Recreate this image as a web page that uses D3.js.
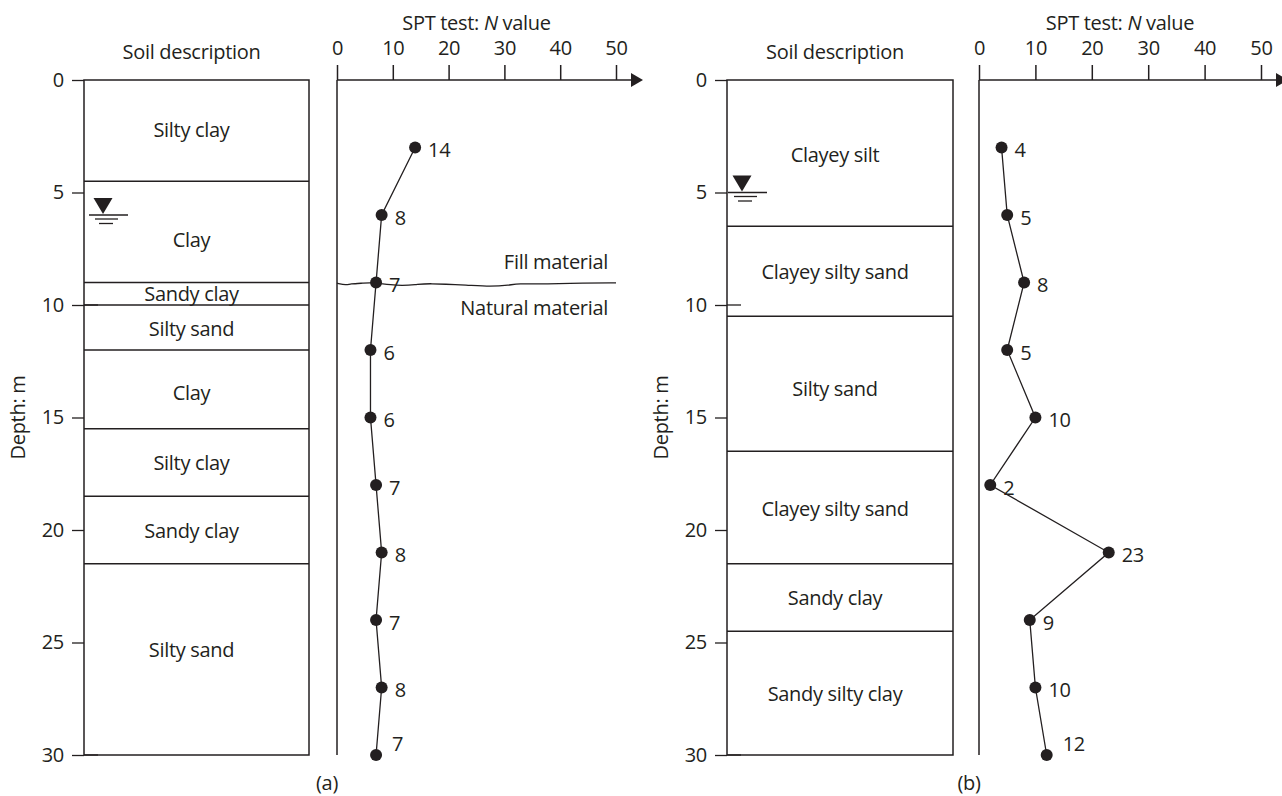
<!DOCTYPE html>
<html>
<head>
<meta charset="utf-8">
<script src="https://cdn.jsdelivr.net/npm/d3@7"></script>
<style>
  body { margin: 0; background: #fff; }
  svg { display: block; font-family: "Open Sans", sans-serif; letter-spacing: -0.3px; }
</style>
</head>
<body>
<svg width="1282" height="796"></svg>
<script>
const depthTicks = [0, 5, 10, 15, 20, 25, 30];
const nTicks = [0, 10, 20, 30, 40, 50];
const innerTicks = [10, 30];

// panel (a)
const layersA = ["Silty clay", "Clay", "Sandy clay", "Silty sand", "Clay", "Silty clay", "Sandy clay", "Silty sand"];
const boundsA = [0, 4.5, 9, 10, 12, 15.5, 18.5, 21.5, 30];
const labelDepthA = [2.2, 7.1, 9.5, 11.05, 13.9, 17, 20, 25.3];
const sptDepthA = [3, 6, 9, 12, 15, 18, 21, 24, 27, 30];
const sptNA = [14, 8, 7, 6, 6, 7, 8, 7, 8, 7];
const waterA = 6;
const fillN = [0, 1.7, 2.3, 4.7, 6.5, 10.7, 14.3, 16, 23.8, 27.4, 31, 32.2, 37.6, 44.1, 50];
const fillDepth = [9.03, 9.12, 9.06, 9.03, 9.0, 9.15, 9.1, 9.03, 9.12, 9.18, 9.12, 9.05, 9.07, 9.02, 9.02];

// panel (b)
const layersB = ["Clayey silt", "Clayey silty sand", "Silty sand", "Clayey silty sand", "Sandy clay", "Sandy silty clay"];
const boundsB = [0, 6.5, 10.5, 16.5, 21.5, 24.5, 30];
const labelDepthB = [3.3, 8.5, 13.7, 19.05, 23, 27.25];
const sptDepthB = [3, 6, 9, 12, 15, 18, 21, 24, 27, 30];
const sptNB = [4, 5, 8, 5, 10, 2, 23, 9, 10, 12];
const waterB = 5;

const ink = "#231f20";
const fs = 20;
const svg = d3.select("svg");
const y = d3.scaleLinear().domain([0, 30]).range([80, 755]);

function drawPanel(p) {
  const g = svg.append("g");
  const x = d3.scaleLinear().domain([0, 50]).range([p.x0, p.x50]);
  const mid = (p.boxL + p.boxR) / 2 - 5;

  // depth axis
  g.append("g")
    .attr("transform", `translate(${p.boxL},0)`)
    .call(d3.axisLeft(y).tickValues(depthTicks).tickSize(12).tickPadding(8))
    .call(a => a.select(".domain").remove())
    .call(a => a.selectAll("line").attr("stroke", ink).attr("stroke-width", 1.3))
    .call(a => a.selectAll("text").attr("fill", ink).attr("font-size", fs)
      .attr("font-family", "Open Sans, sans-serif"));

  g.selectAll(".inner").data(innerTicks).enter().append("line")
    .attr("x1", p.boxL).attr("x2", p.boxL + 14)
    .attr("y1", d => y(d)).attr("y2", d => y(d))
    .attr("stroke", ink).attr("stroke-width", 1.3);

  g.append("text")
    .attr("transform", `translate(${p.boxL - 67},${y(15)}) rotate(-90)`)
    .attr("text-anchor", "middle").attr("dominant-baseline", "central")
    .attr("font-size", fs).attr("fill", ink)
    .text("Depth: m");

  // soil column
  g.append("text")
    .attr("x", mid).attr("y", 59)
    .attr("text-anchor", "middle").attr("font-size", fs).attr("fill", ink)
    .text("Soil description");

  g.selectAll(".bound").data(p.bounds.slice(1, -1)).enter().append("line")
    .attr("x1", p.boxL).attr("x2", p.boxR)
    .attr("y1", d => y(d)).attr("y2", d => y(d))
    .attr("stroke", ink).attr("stroke-width", 1.3);

  g.append("rect")
    .attr("x", p.boxL).attr("y", y(0))
    .attr("width", p.boxR - p.boxL).attr("height", y(30) - y(0))
    .attr("fill", "none").attr("stroke", ink).attr("stroke-width", 1.5);

  g.selectAll(".layer").data(p.layers).enter().append("text")
    .attr("x", mid).attr("y", (d, i) => y(p.labelDepth[i]))
    .attr("text-anchor", "middle").attr("dominant-baseline", "central")
    .attr("font-size", fs).attr("fill", ink)
    .text(d => d);

  // water table
  const wy = y(p.water);
  const wx = p.boxL + p.wt;
  g.append("line").attr("x1", wx - 14).attr("x2", wx + 25).attr("y1", wy).attr("y2", wy)
    .attr("stroke", ink).attr("stroke-width", 1.3);
  g.append("line").attr("x1", wx - 8).attr("x2", wx + 15).attr("y1", wy + 4).attr("y2", wy + 4)
    .attr("stroke", ink).attr("stroke-width", 1.3);
  g.append("line").attr("x1", wx - 4).attr("x2", wx + 10).attr("y1", wy + 8.5).attr("y2", wy + 8.5)
    .attr("stroke", ink).attr("stroke-width", 1.3);
  g.append("path")
    .attr("d", `M${wx - 9.5},${wy - 17}L${wx + 9.5},${wy - 17}L${wx},${wy - 1}Z`)
    .attr("fill", ink);

  // SPT axis
  g.append("text")
    .attr("x", (p.x0 + p.x50) / 2).attr("y", 30)
    .attr("text-anchor", "middle").attr("font-size", fs).attr("fill", ink)
    .call(t => {
      t.append("tspan").text("SPT test: ");
      t.append("tspan").attr("font-style", "italic").text("N");
      t.append("tspan").text(" value");
    });

  g.append("g")
    .attr("transform", `translate(0,${y(0)})`)
    .call(d3.axisTop(x).tickValues(nTicks).tickSize(15).tickPadding(10).tickSizeOuter(0))
    .call(a => a.select(".domain").remove())
    .call(a => a.selectAll("line").attr("stroke", ink).attr("stroke-width", 1.5))
    .call(a => a.selectAll("text").attr("fill", ink).attr("font-size", fs)
      .attr("font-family", "Open Sans, sans-serif"));

  const tip = x(50) + 27;
  g.append("line").attr("x1", x(0)).attr("x2", tip - 6).attr("y1", y(0)).attr("y2", y(0))
    .attr("stroke", ink).attr("stroke-width", 1.5);
  g.append("path")
    .attr("d", `M${tip},${y(0)}L${tip - 12},${y(0) - 7}L${tip - 12},${y(0) + 7}Z`)
    .attr("fill", ink);
  g.append("line").attr("x1", x(0)).attr("x2", x(0)).attr("y1", y(0)).attr("y2", y(30))
    .attr("stroke", ink).attr("stroke-width", 1.5);

  // fill / natural boundary
  if (p.fill) {
    const pts = p.fill.n.map((n, i) => [n, p.fill.depth[i]]);
    g.append("path")
      .attr("d", d3.line().x(d => x(d[0])).y(d => y(d[1])).curve(d3.curveBasis)(pts))
      .attr("fill", "none").attr("stroke", ink).attr("stroke-width", 1.3);
    g.append("text").attr("x", x(50) - 8).attr("y", y(9) - 21)
      .attr("text-anchor", "end").attr("dominant-baseline", "central")
      .attr("font-size", fs).attr("fill", ink).text("Fill material");
    g.append("text").attr("x", x(50) - 8).attr("y", y(9) + 25)
      .attr("text-anchor", "end").attr("dominant-baseline", "central")
      .attr("font-size", fs).attr("fill", ink).text("Natural material");
  }

  // SPT profile
  const data = p.depth.map((d, i) => ({ depth: d, n: p.n[i] }));
  g.append("path")
    .datum(data)
    .attr("d", d3.line().x(d => x(d.n)).y(d => y(d.depth)))
    .attr("fill", "none").attr("stroke", ink).attr("stroke-width", 1.3);

  g.selectAll(".dot").data(data).enter().append("circle")
    .attr("cx", d => x(d.n)).attr("cy", d => y(d.depth)).attr("r", 6)
    .attr("fill", ink);

  g.selectAll(".nlab").data(data).enter().append("text")
    .attr("x", d => x(d.n) + (d.depth === 30 ? 16 : 13))
    .attr("y", d => y(d.depth) + (d.depth === 30 ? -12 : 2))
    .attr("dominant-baseline", "central")
    .attr("font-size", fs).attr("fill", ink)
    .text(d => d.n);

  g.append("text")
    .attr("x", x(0) - 10).attr("y", 790)
    .attr("text-anchor", "middle").attr("font-size", fs).attr("fill", ink)
    .text(p.caption);
}

drawPanel({
  boxL: 84, boxR: 309, x0: 337, x50: 616, wt: 19,
  layers: layersA, bounds: boundsA, labelDepth: labelDepthA,
  depth: sptDepthA, n: sptNA, water: waterA,
  fill: { n: fillN, depth: fillDepth }, caption: "(a)"
});

drawPanel({
  boxL: 727, boxR: 953, x0: 979, x50: 1261, wt: 15,
  layers: layersB, bounds: boundsB, labelDepth: labelDepthB,
  depth: sptDepthB, n: sptNB, water: waterB,
  fill: null, caption: "(b)"
});
</script>
</body>
</html>
